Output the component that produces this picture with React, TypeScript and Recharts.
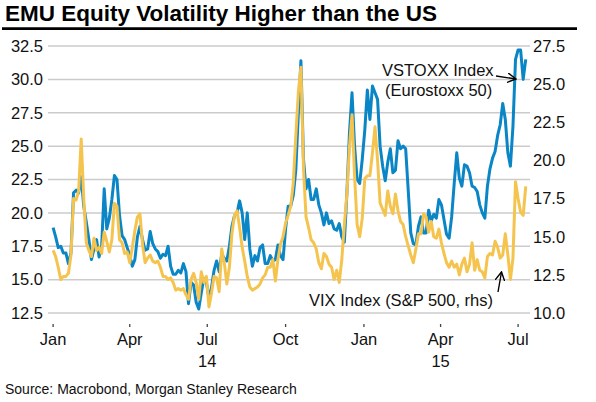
import { LineChart, Line, XAxis, YAxis, CartesianGrid } from 'recharts'

// sampled every 3 calendar days from 1 Jan 2014
const vstoxx = [
  18.9, 18.2, 17.4, 17.5, 17.0, 17.0, 16.2, 17.0, 21.5, 21.7,
  21.5, 22.7, 20.5, 19.3, 18.0, 16.5, 17.3, 18.0, 16.7, 17.5,
  21.8, 18.8, 19.6, 21.0, 22.8, 22.5, 19.8, 18.3, 18.0, 17.4,
  16.8, 16.0, 16.5, 18.2, 19.0, 18.0, 17.2, 17.3, 18.6, 17.7,
  17.3, 17.1, 16.6, 16.9, 16.8, 17.5, 16.0, 15.4, 15.4, 15.7,
  15.5, 16.2, 15.6, 13.2, 14.8, 14.6, 13.3, 12.8, 14.0, 15.1,
  14.8, 13.6, 14.4, 15.7, 16.4, 15.6, 16.9, 16.6, 16.4, 17.5,
  19.0, 19.8, 20.0, 20.9, 20.0, 18.0, 20.0, 17.3, 16.0, 16.8,
  16.4, 17.4, 17.6, 16.2, 16.2, 16.8, 16.4, 16.5, 17.6, 16.8,
  16.5, 18.8, 20.5, 20.5, 21.3, 23.2, 27.5, 31.4, 24.0, 21.8,
  22.5, 21.0, 21.0, 21.8, 20.6, 20.0, 19.1, 20.0, 19.2, 19.4,
  18.8, 18.7, 19.2, 18.2, 17.8, 21.5, 26.0, 29.0, 25.0, 22.5,
  22.2, 24.0, 26.2, 29.2, 27.0, 29.5, 29.0, 28.5, 25.0, 23.5,
  22.4, 23.8, 24.8, 23.0, 23.2, 25.4, 24.8, 25.0, 24.8, 21.7,
  18.5, 17.7, 17.6, 19.0, 19.7, 18.5, 18.5, 20.2, 19.4, 19.9,
  19.6, 21.0, 20.6, 19.5, 18.4, 18.1, 19.7, 22.2, 24.5, 22.6,
  22.0, 23.6, 23.5, 23.0, 22.0, 21.9, 21.6, 20.6, 20.0, 19.6,
  22.0, 23.3, 24.1, 24.6, 25.8, 26.6, 28.2, 27.0, 24.5, 23.5,
  26.5, 31.5, 32.2, 32.2, 30.0, 31.5,
]

const vix = [
  14.1, 13.7, 13.0, 12.2, 12.4, 12.4, 12.6, 13.8, 17.5, 17.4,
  18.0, 21.4, 17.5, 14.6, 14.1, 13.7, 14.9, 14.1, 14.3, 13.9,
  15.3, 14.7, 14.0, 14.8, 17.2, 17.0, 14.8, 14.6, 13.9, 14.0,
  13.3, 14.3, 15.4, 16.3, 16.5, 14.5, 13.3, 13.6, 13.8, 13.4,
  13.3, 13.4, 13.0, 12.4, 12.4, 12.2, 12.3, 12.0, 11.5, 11.6,
  11.5, 11.6, 11.2, 10.9, 12.2, 12.6, 12.0, 10.9, 12.7, 12.0,
  12.4, 10.4, 11.3, 12.4, 12.3, 11.4, 14.2, 13.3, 11.9, 13.0,
  15.2, 16.4, 16.7, 15.6, 14.3, 13.4, 12.4, 11.7, 11.5, 11.6,
  11.7, 11.9, 12.3, 12.5, 13.0, 13.0, 13.5, 12.1, 13.5, 14.5,
  15.0, 15.9, 16.4, 17.0, 18.5, 21.6, 24.5, 26.1, 19.5, 16.3,
  15.6, 14.8, 14.6, 14.2, 13.3, 12.9, 13.9, 13.7, 13.2, 13.0,
  12.2, 12.8, 12.0, 13.5, 15.8, 17.8, 20.9, 23.0, 19.0, 15.8,
  15.0, 16.2, 18.8, 19.0, 19.0, 20.5, 22.2, 20.0, 17.2, 16.8,
  16.4, 18.0, 17.0, 16.5, 17.8, 16.7, 16.0, 15.8, 15.0, 14.4,
  13.8, 13.3, 14.2, 15.2, 15.2, 16.5, 16.3, 15.3, 16.0, 15.0,
  14.9, 15.5, 14.6, 13.9, 13.3, 13.0, 13.4, 13.0, 13.2, 12.5,
  13.2, 13.6, 12.7, 13.2, 14.6, 12.8, 13.5, 12.8, 12.7, 12.3,
  13.7, 13.9, 13.8, 14.7, 14.3, 13.6, 13.8, 15.2, 13.8, 12.2,
  13.6, 18.6, 17.5, 16.6, 16.4, 18.3,
]

const days = vstoxx.map((_, i) => i * 3)

const monthTicks = [0, 90, 181, 273, 365, 455, 546]
const monthLabels = ['Jan', 'Apr', 'Jul', 'Oct', 'Jan', 'Apr', 'Jul']
const yearLabels = ['', '', '14', '', '', '15', '']

const leftTicks = [12.5, 15, 17.5, 20, 22.5, 25, 27.5, 30, 32.5]
const rightTicks = [10, 12.5, 15, 17.5, 20, 22.5, 25, 27.5]

const data = days.map((day, i) => ({ day, vstoxx: vstoxx[i], vix: vix[i] }))

const FONT = '"Liberation Sans", Arial, sans-serif'
const BLUE = '#0a86c6'
const YELLOW = '#f5c44f'

function MonthTick({ x, y, payload }: { x?: number; y?: number; payload?: { value: number } }) {
  const i = monthTicks.indexOf(payload?.value ?? -1)
  if (i < 0 || x == null || y == null) return null
  return (
    <g>
      <line x1={x} x2={x} y1={y + 11} y2={y + 14} stroke="#444" strokeWidth={1.3} />
      <text x={x} y={y + 32} textAnchor="middle" fontSize={16.5} fontFamily={FONT} fill="#111">
        {monthLabels[i]}
      </text>
      {yearLabels[i] && (
        <text x={x} y={y + 54} textAnchor="middle" fontSize={16.5} fontFamily={FONT} fill="#111">
          {yearLabels[i]}
        </text>
      )}
    </g>
  )
}

export default function App() {
  const tickStyle = { fill: '#111', fontSize: 16.5, fontFamily: FONT }
  return (
    <div style={{ position: 'relative', width: 596, height: 402, background: '#fff', fontFamily: FONT }}>
      <style>{'body{margin:0}'}</style>
      <div style={{ position: 'absolute', left: 0, top: 0 }}>
        <LineChart width={596} height={370} data={data} margin={{ top: 46, right: 6, left: 0, bottom: 7 }}>
          <CartesianGrid yAxisId="left" vertical={false} stroke="#cbcbcb" strokeWidth={1.5} />
          <XAxis
            dataKey="day"
            type="number"
            domain={[-6, 560]}
            ticks={monthTicks}
            interval={0}
            axisLine={false}
            tickLine={false}
            tickSize={0}
            tickMargin={0}
            height={50}
            tick={<MonthTick />}
          />
          <YAxis
            yAxisId="left"
            domain={[12.5, 32.5]}
            ticks={leftTicks}
            interval={0}
            width={48}
            axisLine={false}
            tickLine={false}
            tickSize={0}
            tickMargin={5}
            tick={tickStyle}
            tickFormatter={(v: number) => v.toFixed(1)}
          />
          <YAxis
            yAxisId="right"
            orientation="right"
            domain={[10, 27.5]}
            ticks={rightTicks}
            interval={0}
            width={60}
            axisLine={false}
            tickLine={false}
            tickSize={0}
            tickMargin={3}
            tick={{ ...tickStyle, textAnchor: 'start' }}
            tickFormatter={(v: number) => v.toFixed(1)}
          />
          <Line
            yAxisId="left"
            dataKey="vstoxx"
            type="linear"
            stroke={BLUE}
            strokeWidth={3}
            dot={false}
            strokeLinejoin="round"
            isAnimationActive={false}
          />
          <Line
            yAxisId="right"
            dataKey="vix"
            type="linear"
            stroke={YELLOW}
            strokeWidth={3}
            dot={false}
            strokeLinejoin="round"
            isAnimationActive={false}
          />
        </LineChart>
      </div>
      <svg width={596} height={402} style={{ position: 'absolute', left: 0, top: 0, pointerEvents: 'none' }}>
        <defs>
          <marker id="ah" viewBox="0 0 10 10" refX="9" refY="5" markerWidth="7" markerHeight="7" orient="auto">
            <path d="M0,0 L9,5 L0,10" fill="none" stroke="#000" strokeWidth={1.4} />
          </marker>
        </defs>
        <text x={5} y={21} fontSize={22.5} fontWeight="bold" fontFamily={FONT} fill="#000">
          EMU Equity Volatility Higher than the US
        </text>
        <line x1={2} x2={577} y1={28.7} y2={28.7} stroke="#000" strokeWidth={2.7} />
        <text x={382} y={76} fontSize={16.5} fontFamily={FONT} fill="#111">VSTOXX Index</text>
        <text x={385} y={95.5} fontSize={16.5} fontFamily={FONT} fill="#111">(Eurostoxx 50)</text>
        <line x1={496} y1={76} x2={516} y2={79} stroke="#000" strokeWidth={1.4} markerEnd="url(#ah)" />
        <text x={309} y={306} fontSize={16.5} fontFamily={FONT} fill="#111">VIX Index (S&amp;P 500, rhs)</text>
        <line x1={498} y1={292} x2={501.5} y2={272} stroke="#000" strokeWidth={1.4} markerEnd="url(#ah)" />
        <text x={5} y={394} fontSize={14} fontFamily={FONT} fill="#111">
          Source: Macrobond, Morgan Stanley Research
        </text>
      </svg>
    </div>
  )
}
